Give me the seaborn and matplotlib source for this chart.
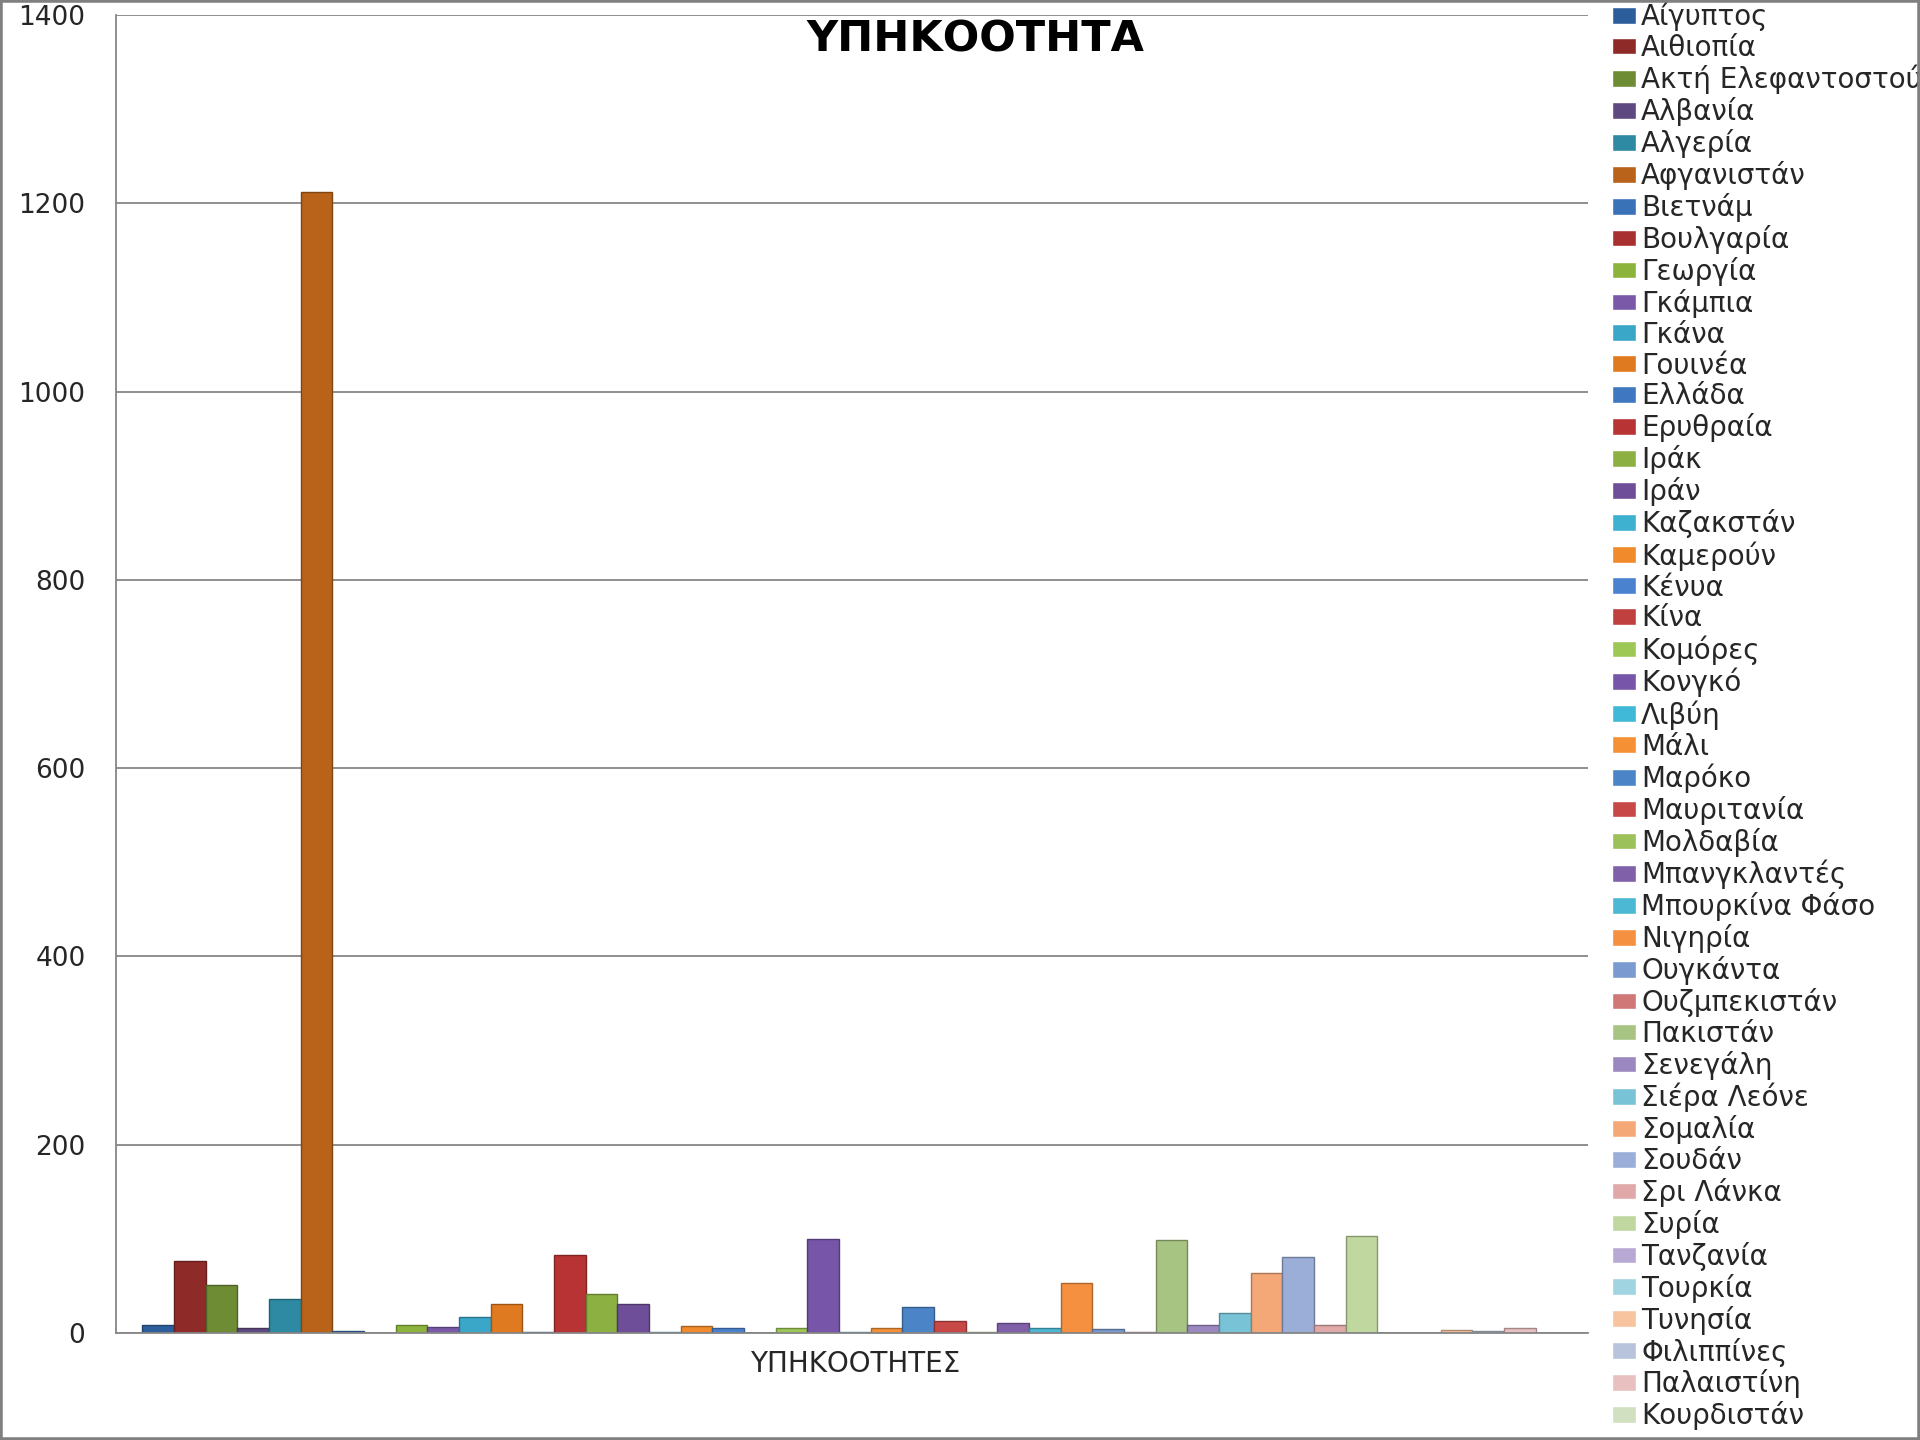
import numpy as np
import pandas as pd
import matplotlib
matplotlib.use("Agg")
import matplotlib.pyplot as plt
import matplotlib.colors as mcolors
from matplotlib.patches import Rectangle
import seaborn as sns

# ==================================================
# Data
# ==================================================

category = "ΥΠΗΚΟΟΤΗΤΕΣ"

countries = [
    "Αίγυπτος", "Αιθιοπία", "Ακτή Ελεφαντοστού", "Αλβανία", "Αλγερία",
    "Αφγανιστάν", "Βιετνάμ", "Βουλγαρία", "Γεωργία", "Γκάμπια",
    "Γκάνα", "Γουινέα", "Ελλάδα", "Ερυθραία", "Ιράκ",
    "Ιράν", "Καζακστάν", "Καμερούν", "Κένυα", "Κίνα",
    "Κομόρες", "Κονγκό", "Λιβύη", "Μάλι", "Μαρόκο",
    "Μαυριτανία", "Μολδαβία", "Μπανγκλαντές", "Μπουρκίνα Φάσο", "Νιγηρία",
    "Ουγκάντα", "Ουζμπεκιστάν", "Πακιστάν", "Σενεγάλη", "Σιέρα Λεόνε",
    "Σομαλία", "Σουδάν", "Σρι Λάνκα", "Συρία", "Τανζανία",
    "Τουρκία", "Τυνησία", "Φιλιππίνες", "Παλαιστίνη", "Κουρδιστάν",
]

values = [
    8, 77, 51, 5, 36,
    1212, 2, 0, 8, 6,
    17, 31, 1, 83, 41,
    31, 1, 7, 5, 0,
    5, 100, 1, 5, 28,
    13, 1, 11, 5, 53,
    4, 1, 99, 8, 21,
    64, 81, 8, 103, 0,
    0, 3, 2, 5, 0,
]

bar_colors = [
    "#2D5E9C", "#8E2B29", "#6E8C33", "#5E4A80", "#2E8AA3", "#B8621A",
    "#3A72B8", "#A83030", "#8CB43C", "#7A5AA8", "#3AA6C8", "#E07A20",
    "#3F78C0", "#B83434", "#8DB043", "#6E4E98", "#3EB0D0", "#F08A2A",
    "#4A82D0", "#C04040", "#9DC856", "#7755A8", "#40B8D8", "#F59035",
    "#4C84C8", "#C84848", "#9CC05A", "#8060A8", "#4CB8D4", "#F49040",
    "#7B9AD0", "#D07878", "#A8C482", "#9C88C0", "#78C4D6", "#F4A878",
    "#9AAED8", "#E0A8A8", "#C0D8A0", "#B8A8D4", "#A0D4E0", "#F8C4A0",
    "#B8C4DC", "#E8C0C0", "#D0E0C0",
]

y_ticks = [0, 200, 400, 600, 800, 1000, 1200, 1400]

df = pd.DataFrame({
    "cat": [category] * len(countries),
    "country": countries,
    "value": values,
})

# ==================================================
# Plot
# ==================================================

sns.set_theme(style="white")
plt.rcParams["font.family"] = ["DejaVu Sans"]

fig = plt.figure(figsize=(19.2, 14.4), dpi=100)
ax = fig.add_axes([116 / 1920, 1 - 1333 / 1440, (1588 - 116) / 1920, (1333 - 15) / 1440])

sns.barplot(
    data=df,
    x="cat",
    y="value",
    hue="country",
    hue_order=countries,
    palette=bar_colors,
    width=0.968,
    errorbar=None,
    saturation=1,
    ax=ax,
)

# darker outline to mimic the bevelled Excel bars
for patch in ax.patches:
    fc = np.array(mcolors.to_rgb(patch.get_facecolor()))
    patch.set_edgecolor(fc * 0.7)
    patch.set_linewidth(1.0)

ax.set_xlim(-0.502, 0.498)
ax.set_ylim(0, 1400)
ax.set_yticks(y_ticks)
ax.set_yticklabels([str(t) for t in y_ticks], fontsize=19)
ax.tick_params(axis="y", length=0, pad=22)
ax.tick_params(axis="x", length=0, pad=12, labelsize=20)
ax.set_xlabel("")
ax.set_ylabel("")

ax.yaxis.grid(True, color="#868686", linewidth=1.3)
ax.set_axisbelow(True)
for side in ["top", "right"]:
    ax.spines[side].set_visible(False)
for side in ["left", "bottom"]:
    ax.spines[side].set_color("#868686")
    ax.spines[side].set_linewidth(1.3)

sns.move_legend(
    ax,
    loc="upper left",
    bbox_to_anchor=(1612 / 1920, 1 - 2 / 1440),
    bbox_transform=fig.transFigure,
    frameon=False,
    title=None,
    fontsize=20,
    labelspacing=0.105,
    handlelength=0.85,
    handleheight=0.55,
    handletextpad=0.2,
    borderaxespad=0,
    borderpad=0,
)

fig.text(975 / 1920, 1 - 40 / 1440, "ΥΠΗΚΟΟΤΗΤΑ", ha="center", va="center",
         fontsize=31, fontweight="bold", color="black")

# grey frame of the original picture
fig.patches.append(Rectangle((0, 0), 1, 1, transform=fig.transFigure,
                             fill=False, edgecolor="#808080", linewidth=4,
                             zorder=10))

fig.savefig("out.png", dpi=100)
